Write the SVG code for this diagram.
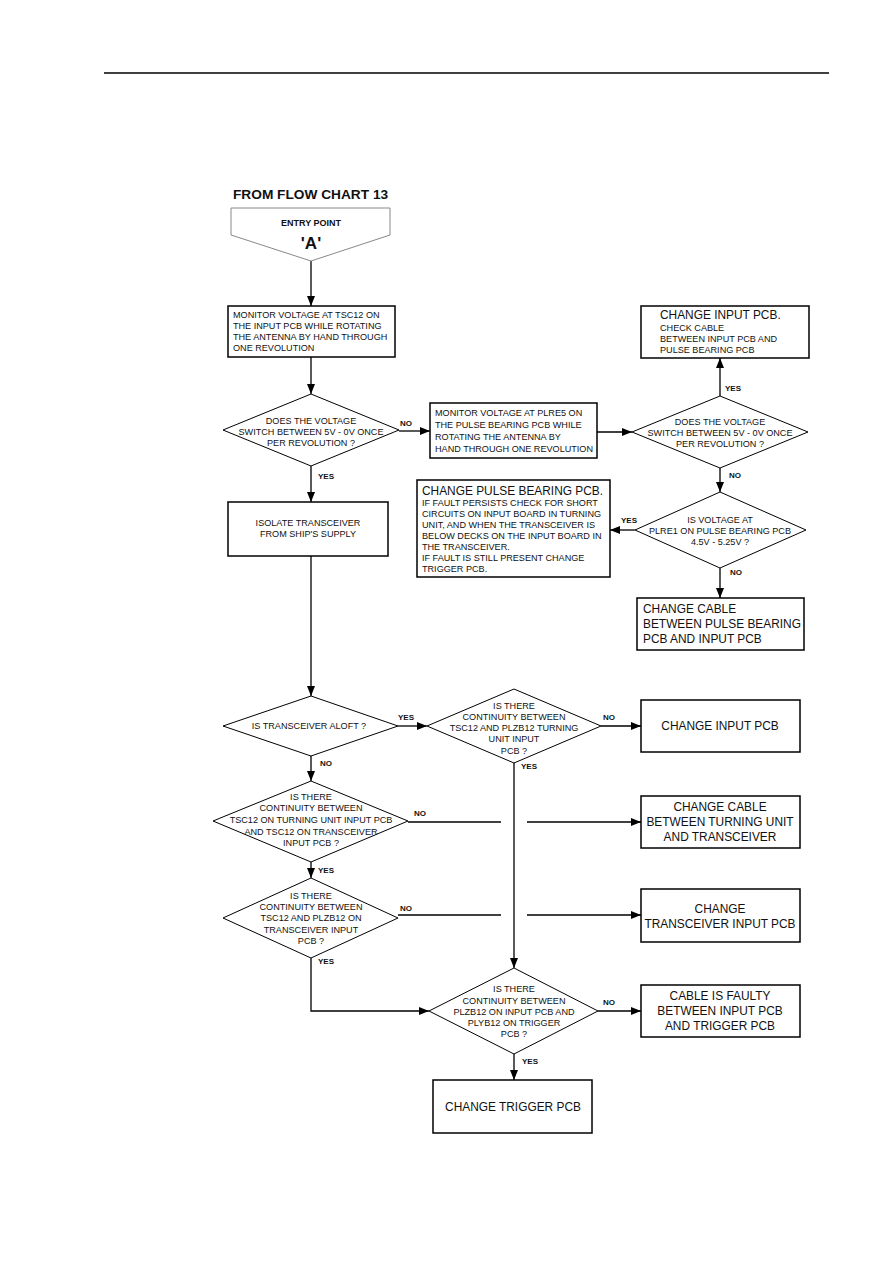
<svg xmlns="http://www.w3.org/2000/svg" width="893" height="1263" viewBox="0 0 893 1263">
<defs>
<marker id="arr" markerUnits="userSpaceOnUse" markerWidth="11" markerHeight="8" refX="10" refY="4" orient="auto">
<path d="M0,0 L10,4 L0,8 z" fill="#000"/>
</marker>
<style>
text{font-family:"Liberation Sans",Arial,Helvetica,sans-serif;fill:#111}
.box{fill:#fff;stroke:#000;stroke-width:1.5}
.dia{fill:#fff;stroke:#000;stroke-width:1}
.ln{fill:none;stroke:#000;stroke-width:1.3}
.ar{fill:none;stroke:#000;stroke-width:1.3;marker-end:url(#arr)}
.dt{font-size:9.1px;text-anchor:middle}
.bt{font-size:9.1px}
.big{font-size:11.9px}
.bigc{font-size:11.9px;text-anchor:middle}
.lab{font-size:8px;font-weight:bold}
</style>
</defs>
<rect width="893" height="1263" fill="#fff"/>
<line x1="104" y1="73" x2="829" y2="73" stroke="#000" stroke-width="1.5"/>

<g id="connectors">
<line class="ar" x1="311" y1="261" x2="311" y2="306"/>
<line class="ar" x1="311" y1="357" x2="311" y2="394"/>
<line class="ar" x1="399" y1="431" x2="430" y2="431"/>
<text class="lab" x="400" y="426">NO</text>
<line class="ar" x1="597" y1="432" x2="632" y2="432"/>
<line class="ar" x1="720" y1="396" x2="720" y2="358"/>
<text class="lab" x="725" y="391">YES</text>
<line class="ar" x1="720" y1="468" x2="720" y2="492"/>
<text class="lab" x="729" y="478">NO</text>
<line class="ar" x1="635" y1="530" x2="610" y2="530"/>
<text class="lab" x="621" y="523">YES</text>
<line class="ar" x1="720" y1="568" x2="720" y2="598"/>
<text class="lab" x="730" y="575">NO</text>
<line class="ar" x1="311" y1="466" x2="311" y2="502"/>
<text class="lab" x="318" y="479">YES</text>
<line class="ar" x1="311" y1="556" x2="311" y2="696"/>
<line class="ar" x1="398" y1="726" x2="427" y2="726"/>
<text class="lab" x="398" y="720">YES</text>
<line class="ar" x1="601" y1="726" x2="641" y2="726"/>
<text class="lab" x="603" y="720">NO</text>
<line class="ar" x1="514" y1="763" x2="514" y2="968"/>
<text class="lab" x="521" y="769">YES</text>
<line class="ar" x1="311" y1="756" x2="311" y2="781"/>
<text class="lab" x="320" y="766">NO</text>
<line class="ln" x1="408" y1="822" x2="501" y2="822"/>
<line class="ar" x1="527" y1="822" x2="641" y2="822"/>
<text class="lab" x="414" y="816">NO</text>
<line class="ar" x1="311" y1="862" x2="311" y2="878"/>
<text class="lab" x="318" y="873">YES</text>
<line class="ln" x1="398" y1="915" x2="501" y2="915"/>
<line class="ar" x1="527" y1="915" x2="641" y2="915"/>
<text class="lab" x="400" y="911">NO</text>
<polyline class="ar" points="311,958 311,1011 429,1011"/>
<text class="lab" x="318" y="964">YES</text>
<line class="ar" x1="598" y1="1011" x2="641" y2="1011"/>
<text class="lab" x="603" y="1005">NO</text>
<line class="ar" x1="514" y1="1054" x2="514" y2="1080"/>
<text class="lab" x="522" y="1064">YES</text>
</g>

<g id="from">
<text x="233" y="199" style="font-size:13.7px;font-weight:bold">FROM FLOW CHART 13</text>
</g>

<g id="entry">
<polygon points="231,208 390,208 390,235 311,261 231,235" fill="#fff" stroke="#888" stroke-width="1"/>
<text x="311" y="226" style="font-size:9px;font-weight:bold;text-anchor:middle">ENTRY POINT</text>
<text x="311" y="249" style="font-size:17px;font-weight:bold;text-anchor:middle">'A'</text>
</g>

<g id="monitor1">
<rect class="box" x="228" y="306" width="167" height="51"/>
<text class="bt" x="233" y="318">MONITOR VOLTAGE AT TSC12 ON</text>
<text class="bt" x="233" y="329">THE INPUT PCB WHILE ROTATING</text>
<text class="bt" x="233" y="340">THE ANTENNA BY HAND THROUGH</text>
<text class="bt" x="233" y="351">ONE REVOLUTION</text>
</g>

<g id="dec1">
<polygon class="dia" points="223,430 311,394 399,430 311,466"/>
<text class="dt" x="311" y="424">DOES THE VOLTAGE</text>
<text class="dt" x="311" y="435">SWITCH BETWEEN 5V - 0V ONCE</text>
<text class="dt" x="311" y="446">PER REVOLUTION ?</text>
</g>

<g id="monitor2">
<rect class="box" x="430" y="403" width="167" height="55"/>
<text class="bt" x="435" y="416">MONITOR VOLTAGE AT PLRE5 ON</text>
<text class="bt" x="435" y="428">THE PULSE BEARING PCB WHILE</text>
<text class="bt" x="435" y="440">ROTATING THE ANTENNA BY</text>
<text class="bt" x="435" y="452">HAND THROUGH ONE REVOLUTION</text>
</g>

<g id="dec2">
<polygon class="dia" points="632,432 720,396 808,432 720,468"/>
<text class="dt" x="720" y="425">DOES THE VOLTAGE</text>
<text class="dt" x="720" y="436">SWITCH BETWEEN 5V - 0V ONCE</text>
<text class="dt" x="720" y="447">PER REVOLUTION ?</text>
</g>

<g id="changeInput1">
<rect class="box" x="641" y="306" width="168" height="52"/>
<text class="big" x="660" y="319">CHANGE INPUT PCB.</text>
<text class="bt" x="660" y="331">CHECK CABLE</text>
<text class="bt" x="660" y="342">BETWEEN INPUT PCB AND</text>
<text class="bt" x="660" y="353">PULSE BEARING PCB</text>
</g>

<g id="dec3">
<polygon class="dia" points="635,530 720,492 806,530 720,568"/>
<text class="dt" x="720" y="523">IS VOLTAGE AT</text>
<text class="dt" x="720" y="534">PLRE1 ON PULSE BEARING PCB</text>
<text class="dt" x="720" y="545">4.5V - 5.25V ?</text>
</g>

<g id="changePulse">
<rect class="box" x="417" y="480" width="193" height="97"/>
<text class="big" x="422" y="495">CHANGE PULSE BEARING PCB.</text>
<text class="bt" x="422" y="506">IF FAULT PERSISTS CHECK FOR SHORT</text>
<text class="bt" x="422" y="517">CIRCUITS ON INPUT BOARD  IN TURNING</text>
<text class="bt" x="422" y="528">UNIT, AND WHEN THE TRANSCEIVER IS</text>
<text class="bt" x="422" y="539">BELOW DECKS ON THE INPUT BOARD IN</text>
<text class="bt" x="422" y="550">THE TRANSCEIVER.</text>
<text class="bt" x="422" y="561">IF FAULT IS STILL PRESENT CHANGE</text>
<text class="bt" x="422" y="572">TRIGGER PCB.</text>
</g>

<g id="changeCable1">
<rect class="box" x="637" y="598" width="167" height="52"/>
<text class="big" x="643" y="613">CHANGE CABLE</text>
<text class="big" x="643" y="628">BETWEEN PULSE BEARING</text>
<text class="big" x="643" y="643">PCB AND INPUT PCB</text>
</g>

<g id="isolate">
<rect class="box" x="228" y="502" width="160" height="54"/>
<text class="dt" x="308" y="526">ISOLATE TRANSCEIVER</text>
<text class="dt" x="308" y="537">FROM SHIP'S SUPPLY</text>
</g>

<g id="dec4">
<polygon class="dia" points="223,726 311,696 398,726 311,756"/>
<text class="dt" x="309" y="729">IS TRANSCEIVER ALOFT ?</text>
</g>

<g id="dec5">
<polygon class="dia" points="427,726 514,689 601,726 514,763"/>
<text class="dt" x="514" y="709">IS THERE</text>
<text class="dt" x="514" y="720">CONTINUITY BETWEEN</text>
<text class="dt" x="514" y="731">TSC12 AND PLZB12 TURNING</text>
<text class="dt" x="514" y="742">UNIT INPUT</text>
<text class="dt" x="514" y="754">PCB ?</text>
</g>

<g id="changeInput2">
<rect class="box" x="641" y="700" width="159" height="52"/>
<text class="bigc" x="720" y="730">CHANGE INPUT PCB</text>
</g>

<g id="dec6">
<polygon class="dia" points="213,821 311,781 408,821 311,862"/>
<text class="dt" x="311" y="800">IS THERE</text>
<text class="dt" x="311" y="811">CONTINUITY BETWEEN</text>
<text class="dt" x="311" y="823">TSC12 ON TURNING UNIT INPUT PCB</text>
<text class="dt" x="311" y="835">AND TSC12 ON TRANSCEIVER</text>
<text class="dt" x="311" y="846">INPUT PCB ?</text>
</g>

<g id="changeCable2">
<rect class="box" x="641" y="796" width="159" height="52"/>
<text class="bigc" x="720" y="811">CHANGE CABLE</text>
<text class="bigc" x="720" y="826">BETWEEN TURNING UNIT</text>
<text class="bigc" x="720" y="841">AND TRANSCEIVER</text>
</g>

<g id="dec7">
<polygon class="dia" points="223,918 311,878 398,918 311,958"/>
<text class="dt" x="311" y="899">IS THERE</text>
<text class="dt" x="311" y="910">CONTINUITY BETWEEN</text>
<text class="dt" x="311" y="921">TSC12 AND PLZB12 ON</text>
<text class="dt" x="311" y="933">TRANSCEIVER INPUT</text>
<text class="dt" x="311" y="944">PCB ?</text>
</g>

<g id="changeTransInput">
<rect class="box" x="641" y="889" width="159" height="53"/>
<text class="bigc" x="720" y="913">CHANGE</text>
<text class="bigc" x="720" y="928">TRANSCEIVER INPUT PCB</text>
</g>

<g id="dec8">
<polygon class="dia" points="429,1011 514,968 598,1011 514,1054"/>
<text class="dt" x="514" y="992">IS THERE</text>
<text class="dt" x="514" y="1004">CONTINUITY BETWEEN</text>
<text class="dt" x="514" y="1015">PLZB12 ON INPUT PCB AND</text>
<text class="dt" x="514" y="1026">PLYB12 ON TRIGGER</text>
<text class="dt" x="514" y="1037">PCB ?</text>
</g>

<g id="cableFaulty">
<rect class="box" x="641" y="985" width="159" height="52"/>
<text class="bigc" x="720" y="1000">CABLE IS FAULTY</text>
<text class="bigc" x="720" y="1015">BETWEEN INPUT PCB</text>
<text class="bigc" x="720" y="1030">AND TRIGGER PCB</text>
</g>

<g id="changeTrigger">
<rect class="box" x="433" y="1080" width="159" height="53"/>
<text class="bigc" x="513" y="1111">CHANGE TRIGGER PCB</text>
</g>
</svg>
